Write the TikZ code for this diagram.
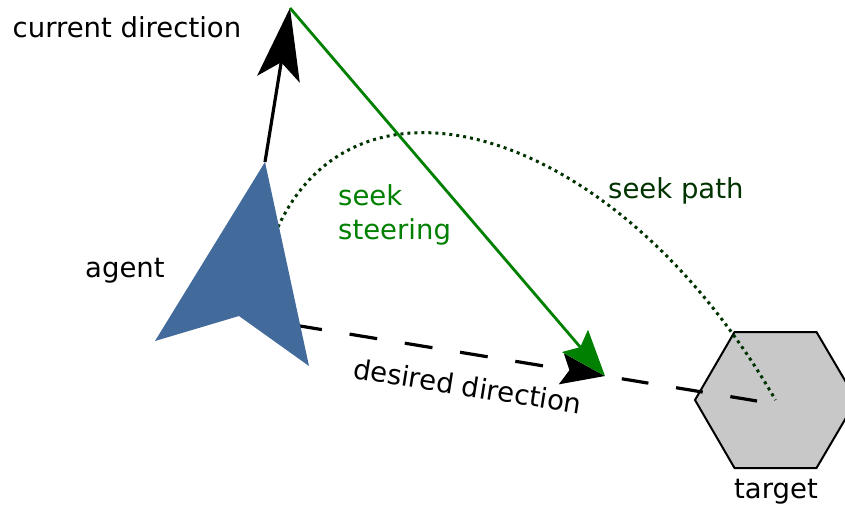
\documentclass[tikz,border=0pt]{standalone}
\usepackage{fontspec}
\setmainfont{DejaVu Sans}
\usetikzlibrary{arrows.meta,calc}
\definecolor{agentblue}{RGB}{66,106,155}
\definecolor{seekgreen}{RGB}{0,128,0}
\definecolor{pathgreen}{RGB}{0,51,0}
\definecolor{targetgray}{RGB}{200,200,200}
\begin{document}
\begin{tikzpicture}[x=1pt,y=-1pt,
  lbl/.style={font=\fontsize{27.5}{34}\selectfont, inner sep=0pt, anchor=base west},
  curarrow/.style={line width=3.2pt, -{Stealth[length=72pt,width=43pt,inset=17pt]}},
  seekarrow/.style={seekgreen, line width=2.8pt, -{Stealth[length=46pt,width=34pt,inset=8pt]}},
  desarrow/.style={line width=3.2pt, dash pattern=on 28pt off 28pt, dash phase=8pt, -{Stealth[length=44pt,width=31pt,inset=8pt]}},
  desline/.style={line width=3.2pt, dash pattern=on 27pt off 28pt, dash phase=38pt},
  pathline/.style={pathgreen, line width=3pt, dash pattern=on 3pt off 4pt},
  agentshape/.style={fill=agentblue, draw=none},
  targetshape/.style={fill=targetgray, draw=black, line width=2pt, line join=miter}]
\useasboundingbox (0,0) rectangle (845,507);
\clip (0,0) rectangle (845,507);
% coordinates
\coordinate (atip) at (265,162);
\coordinate (aright) at (309,366);
\coordinate (anotch) at (239,316);
\coordinate (aleft) at (155,341);
\coordinate (ctip) at (290,8);
\coordinate (stip) at (605,376);
\coordinate (tc) at (775.5,400);
\coordinate (dend) at (757,401);
\coordinate (pstart) at (278,227);
% target
\draw[targetshape] ($(tc)+(-41,-68)$) -- ($(tc)+(41,-68)$) -- ($(tc)+(81,0)$) -- ($(tc)+(41,68)$) -- ($(tc)+(-41,68)$) -- ($(tc)+(-80.5,0)$) -- cycle;
% desired direction
\draw[desarrow] ($(anotch)!8pt!(stip)$) -- (stip);
\draw[desline] (stip) -- (dend);
% seek path
\draw[pathline] (pstart) .. controls (360,50) and (620,130) .. (tc);
% current direction
\draw[curarrow] (atip) -- (ctip);
% seek steering
\draw[seekarrow] (ctip) -- (stip);
% agent
\fill[agentshape] (atip) -- (aright) -- (anotch) -- (aleft) -- cycle;
% labels
\node[lbl] (lcur) at (12.5,37) {current direction};
\node[lbl] (lagent) at (85,277) {agent};
\node[lbl, text=seekgreen, align=left, anchor=north west] (lsteer) at (338,184) {seek\\steering};
\node[lbl, text=pathgreen] (lpath) at (608,198) {seek path};
\node[lbl, rotate=-9] (ldes) at (352,378) {desired direction};
\node[lbl] (ltarget) at (734,498) {target};
\end{tikzpicture}
\end{document}
